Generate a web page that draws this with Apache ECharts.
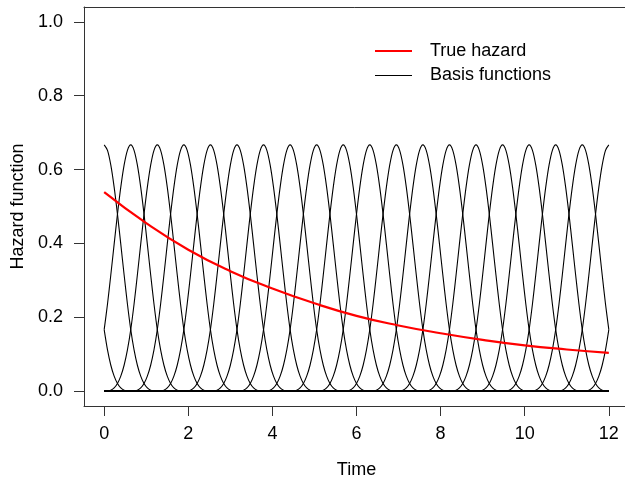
<!DOCTYPE html>
<html>
<head>
<meta charset="utf-8">
<script src="https://cdn.jsdelivr.net/npm/echarts@6/dist/echarts.min.js"></script>
<style>
html,body{margin:0;padding:0;background:#fff;overflow:hidden;}
#chart{width:625px;height:478px;}
</style>
</head>
<body>
<div id="chart"></div>
<script>
// Knot centres of the basis functions (time units) and their spacing
const knotCenters = [-0.6316, 0, 0.6316, 1.2632, 1.8947, 2.5263, 3.1579, 3.7895, 4.4211, 5.0526, 5.6842,
  6.3158, 6.9474, 7.5789, 8.2105, 8.8421, 9.4737, 10.1053, 10.7368, 11.3684, 12, 12.6316];
const knotSpacing = 0.6316;
// Profile of one basis bump: offset (in knot spacings) and height
const bumpOffsets = [-2, -1.875, -1.75, -1.625, -1.5, -1.375, -1.25, -1.125, -1, -0.875, -0.75, -0.625, -0.5,
  -0.375, -0.25, -0.125, 0, 0.125, 0.25, 0.375, 0.5, 0.625, 0.75, 0.875, 1, 1.125, 1.25, 1.375, 1.5, 1.625,
  1.75, 1.875, 2];
const bumpValues = [0, 0.0003, 0.0026, 0.0088, 0.0208, 0.0407, 0.0703, 0.1117, 0.1667, 0.2360, 0.3151, 0.3981,
  0.4792, 0.5524, 0.6120, 0.6520, 0.6667, 0.6520, 0.6120, 0.5524, 0.4792, 0.3981, 0.3151, 0.2360, 0.1667,
  0.1117, 0.0703, 0.0407, 0.0208, 0.0088, 0.0026, 0.0003, 0];
// True hazard
const hazardTime = [0, 1, 2, 3, 4, 5, 6, 7, 8, 9, 10, 11, 12];
const hazardValues = [0.539, 0.455, 0.383, 0.325, 0.278, 0.238, 0.204, 0.178, 0.157, 0.139, 0.124, 0.113, 0.104];
// Axis ticks
const xTicks = [0, 2, 4, 6, 8, 10, 12];
const yTicks = [0, 0.2, 0.4, 0.6, 0.8, 1.0];
const timeMin = 0, timeMax = 12;

const FONT = '"Liberation Sans", Arial, Helvetica, sans-serif';
const FS = 18;
const BOX = '#333';

function bumpSeries(c) {
  const pts = [];
  for (let i = 0; i < bumpOffsets.length; i++) {
    let x = c + bumpOffsets[i] * knotSpacing;
    if (x < timeMin - 1e-3 || x > timeMax + 1e-3) continue;
    x = Math.min(timeMax, Math.max(timeMin, x));
    pts.push([x, bumpValues[i]]);
  }
  if (pts.length === 0) return pts;
  if (pts[0][0] > timeMin) pts.unshift([timeMin, 0]);
  if (pts[pts.length - 1][0] < timeMax) pts.push([timeMax, 0]);
  return pts;
}

const series = knotCenters.map(c => ({
  name: 'Basis functions',
  type: 'line',
  xAxisIndex: 0,
  yAxisIndex: 0,
  data: bumpSeries(c),
  showSymbol: false,
  symbol: 'none',
  smooth: 0.3,
  lineStyle: { color: '#000', width: 1.1 },
  itemStyle: { color: '#000' },
  silent: true,
  z: 2
}));
series.push({
  name: 'True hazard',
  type: 'line',
  xAxisIndex: 0,
  yAxisIndex: 0,
  data: hazardTime.map((t, i) => [t, hazardValues[i]]),
  showSymbol: false,
  symbol: 'none',
  smooth: true,
  lineStyle: { color: '#ff0000', width: 2.2 },
  itemStyle: { color: '#ff0000' },
  z: 3
});

const chart = echarts.init(document.getElementById('chart'), null, { renderer: 'canvas' });
chart.setOption({
  animation: false,
  backgroundColor: '#fff',
  textStyle: { fontFamily: FONT },
  grid: { left: 84, top: 7, width: 545, height: 399, outerBoundsMode: 'none', containLabel: false, show: false },
  legend: {
    orient: 'vertical',
    left: 375,
    top: 42,
    padding: 0,
    itemWidth: 37,
    itemHeight: 2,
    itemGap: 6,
    data: [
      { name: 'True hazard', icon: 'rect' },
      { name: 'Basis functions', icon: 'path://M0,0h0.01v0.01h-0.01z M0,1h37v1h-37z' }
    ],
    textStyle: { fontSize: FS, color: '#000', fontFamily: FONT, padding: [0, 0, 0, 13] },
    selectedMode: false
  },
  xAxis: [{
    type: 'value',
    position: 'bottom',
    min: -0.48,
    max: 12.48,
    name: 'Time',
    nameLocation: 'middle',
    nameGap: 55,
    nameTextStyle: { fontSize: FS, color: '#000', fontFamily: FONT },
    splitLine: { show: false },
    axisLine: { show: true, onZero: false, lineStyle: { color: BOX, width: 1 } },
    axisTick: { show: true, length: 10, inside: false, customValues: xTicks, lineStyle: { color: BOX } },
    axisLabel: { customValues: xTicks, fontSize: FS, color: '#000', margin: 19, fontFamily: FONT, formatter: v => String(v) }
  }, {
    type: 'value',
    position: 'top',
    min: -0.48,
    max: 12.48,
    splitLine: { show: false },
    axisLine: { show: true, onZero: false, lineStyle: { color: BOX, width: 1 } },
    axisTick: { show: false },
    axisLabel: { show: false }
  }],
  yAxis: {
    type: 'value',
    min: -0.04,
    max: 1.04,
    name: 'Hazard function',
    nameLocation: 'middle',
    nameGap: 55,
    nameTextStyle: { fontSize: FS, color: '#000', fontFamily: FONT },
    splitLine: { show: false },
    axisLine: { show: true, onZero: false, lineStyle: { color: BOX, width: 1 } },
    axisTick: { show: true, length: 10, inside: false, customValues: yTicks, lineStyle: { color: BOX } },
    axisLabel: { customValues: yTicks, fontSize: FS, color: '#000', margin: 21, fontFamily: FONT, formatter: v => v.toFixed(1) }
  },
  series: series
});
</script>
</body>
</html>
